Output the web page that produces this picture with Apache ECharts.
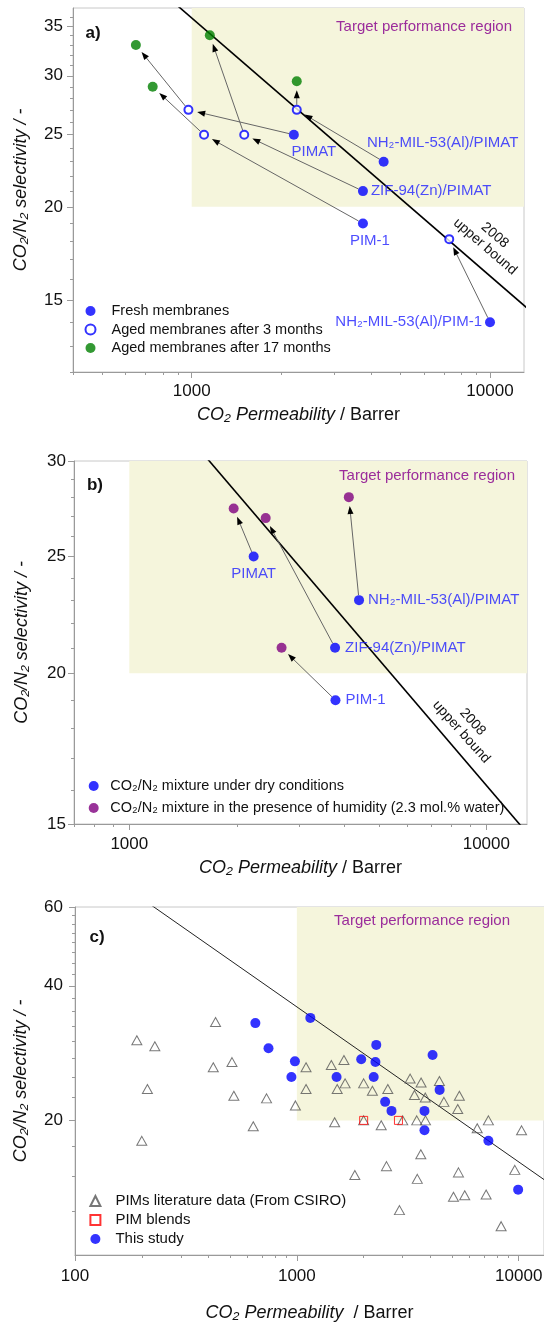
<!DOCTYPE html>
<html>
<head>
<meta charset="utf-8">
<script src="https://cdn.jsdelivr.net/npm/echarts@6/dist/echarts.min.js"></script>
<style>html,body{margin:0;padding:0;background:#fff}#c{width:544px;height:1324px}</style>
</head>
<body>
<div id="c"></div>
<script>
// ---------------- Robeson 2008 upper bound (two points on the line) --------------
const ubPerm = [100, 20000];
const ubSel = [79.7, 12.7];

// ---------------- Panel a ----------------
const freshA_names = ['PIMAT', 'NH₂-MIL-53(Al)/PIMAT', 'ZIF-94(Zn)/PIMAT', 'PIM-1', 'NH₂-MIL-53(Al)/PIM-1'];
const freshA_perm = [2200, 4400, 3750, 3750, 10000];
const freshA_sel = [25, 23, 21, 19, 14];
// aged after 3 months, same order as fresh (arrow fresh i -> aged3 i)
const aged3A_perm = [975, 2250, 1500, 1100, 7300];
const aged3A_sel = [27, 27, 25, 25, 18.1];
// aged after 17 months; arrow from aged3 index aged17A_from[k]
const aged17A_perm = [650, 740, 1150, 2250];
const aged17A_sel = [33, 29, 34, 29.5];
const aged17A_from = [0, 3, 2, 1];

// ---------------- Panel b ----------------
const dryB_names = ['PIMAT', 'NH₂-MIL-53(Al)/PIMAT', 'ZIF-94(Zn)/PIMAT', 'PIM-1'];
const dryB_perm = [2230, 4400, 3770, 3780];
const dryB_sel = [25, 23, 21, 19];
const humidB_perm = [1960, 4120, 2410, 2670];
const humidB_sel = [27.4, 28, 26.9, 21];

// ---------------- Panel c ----------------
const litC_perm = [190, 229, 430, 420, 510, 212, 200, 520, 730, 636, 985, 1100, 1430, 1630, 1100, 1520, 1650, 2000, 2190, 2570, 3240, 3630, 4390, 3390, 3790, 4600, 5400, 5310, 1480, 2000, 2400, 3000, 3470, 3800, 6500, 7300, 10300, 3620, 2535, 1825, 3490, 5350, 9600, 5080, 5710, 7130, 2900, 8330];
const litC_sel = [30.2, 29.3, 33.2, 26.3, 27.0, 23.5, 18.0, 22.7, 22.4, 19.4, 21.6, 26.3, 26.6, 27.3, 23.5, 23.5, 24.2, 24.2, 23.3, 23.5, 24.8, 24.3, 24.5, 22.8, 22.5, 22.0, 22.7, 21.2, 19.8, 20.0, 19.5, 20.0, 20.0, 20.0, 19.2, 20.0, 19.0, 16.8, 15.8, 15.1, 14.8, 15.3, 15.5, 13.5, 13.6, 13.65, 12.6, 11.6];
const blendC_perm = [2000, 2870];
const blendC_sel = [20, 20];
const studyC_perm = [650, 745, 980, 945, 1150, 2280, 1950, 2260, 4090, 1510, 2220, 4400, 2500, 2670, 3760, 3760, 7300, 9940];
const studyC_sel = [33.0, 29.0, 27.1, 25.0, 33.9, 29.5, 27.4, 27.0, 28.0, 25.0, 25.0, 23.4, 22.0, 21.0, 21.0, 19.0, 18.0, 14.0];

// ---------------- Tick values ----------------
const ticksA_xMajor = [1000, 10000];
const ticksA_xMinor = [400, 500, 600, 700, 800, 900, 2000, 3000, 4000, 5000, 6000, 7000, 8000, 9000];
const ticksA_yMajor = [15, 20, 25, 30, 35];
const ticksA_yMinor = [12, 13, 14, 16, 17, 18, 19, 21, 22, 23, 24, 26, 27, 28, 29, 31, 32, 33, 34, 36];
const ticksB_xMajor = [1000, 10000];
const ticksB_xMinor = [700, 800, 900, 2000, 3000, 4000, 5000, 6000, 7000, 8000, 9000];
const ticksB_yMajor = [15, 20, 25, 30];
const ticksB_yMinor = [16, 17, 18, 19, 21, 22, 23, 24, 26, 27, 28, 29];
const ticksC_xMajor = [100, 1000, 10000];
const ticksC_xMinor = [200, 300, 400, 500, 600, 700, 800, 900, 2000, 3000, 4000, 5000, 6000, 7000, 8000, 9000];
const ticksC_yMajor = [20, 40, 60];
const ticksC_yMinor = [12.5, 15, 17.5, 22.5, 25, 27.5, 30, 32.5, 35, 37.5, 42.5, 45, 47.5, 50, 52.5, 55, 57.5];

// ---------------- helpers ----------------
const FONT = '"Liberation Sans", Arial, Helvetica, sans-serif';
const zip = (a, b) => a.map((v, i) => [v, b[i]]);
const AX = '#9a9a9a';
const BLUE = '#0000ff';
const LBL = '#2020ff';
const PURPLE_T = '#9b2d9b';

function mainAxis(dim, gi, min, max, major, o) {
  return {
    type: 'log', logBase: 10, gridIndex: gi, min: min, max: max,
    position: dim === 'x' ? 'bottom' : 'left',
    axisLine: { show: true, lineStyle: { color: AX, width: 1 } },
    axisTick: { show: true, inside: false, length: 6, customValues: major, lineStyle: { color: AX, width: 1 } },
    axisLabel: { show: true, customValues: major, formatter: v => String(Math.round(v)), fontSize: 17, color: '#111', fontFamily: FONT, margin: o.margin },
    splitLine: { show: false }, minorTick: { show: false }, minorSplitLine: { show: false },
    name: o.name, nameLocation: 'middle', nameGap: o.nameGap,
    nameTextStyle: o.nameTextStyle
  };
}
function minorAxis(dim, gi, min, max, minor) {
  return {
    type: 'log', logBase: 10, gridIndex: gi, min: min, max: max,
    position: dim === 'x' ? 'bottom' : 'left',
    axisLine: { show: false },
    axisTick: { show: true, inside: false, length: 3, customValues: minor, lineStyle: { color: AX, width: 1 } },
    axisLabel: { show: false },
    splitLine: { show: false }, minorTick: { show: false }
  };
}
const xName = (txt) => ({
  name: txt,
  nameTextStyle: { fontSize: 18, color: '#111', fontFamily: FONT, rich: { i: { fontSize: 18, fontStyle: 'italic', color: '#111', fontFamily: FONT } } }
});
const yNameStyle = { fontSize: 18, fontStyle: 'italic', color: '#111', fontFamily: FONT };

function arrowRender(params, api) {
  const a = api.coord([api.value(0), api.value(1)]);
  const b = api.coord([api.value(2), api.value(3)]);
  const dx = b[0] - a[0], dy = b[1] - a[1];
  const L = Math.hypot(dx, dy) || 1;
  const ux = dx / L, uy = dy / L;
  const s0 = 5, e0 = 9, hl = 8, hw = 3;
  const sx = a[0] + ux * s0, sy = a[1] + uy * s0;
  const tx = b[0] - ux * e0, ty = b[1] - uy * e0;
  const bx = tx - ux * hl, by = ty - uy * hl;
  return {
    type: 'group', children: [
      { type: 'line', shape: { x1: sx, y1: sy, x2: bx + ux, y2: by + uy }, style: { stroke: '#666', lineWidth: 1 } },
      { type: 'polygon', shape: { points: [[tx, ty], [bx - uy * hw, by + ux * hw], [bx + uy * hw, by - ux * hw]] }, style: { fill: '#000' } }
    ]
  };
}

const arrowsA = [
  ...freshA_perm.map((p, i) => [p, freshA_sel[i], aged3A_perm[i], aged3A_sel[i]]),
  ...aged17A_from.map((j, k) => [aged3A_perm[j], aged3A_sel[j], aged17A_perm[k], aged17A_sel[k]])
];
const arrowsB = dryB_perm.map((p, i) => [p, dryB_sel[i], humidB_perm[i], humidB_sel[i]]);

// label placement (style only)
const labelStyleA = [
  { position: 'bottom', offset: [20, 0] },
  { position: 'top', offset: [59, -1] },
  { position: 'right', distance: 3 },
  { position: 'bottom', offset: [7, 0] },
  { position: 'left', distance: 3 }
];
const labelStyleB = [
  { position: 'bottom', offset: [0, 0] },
  { position: 'right', distance: 4 },
  { position: 'right', distance: 5 },
  { position: 'right', distance: 5 }
];
const ptLabel = { show: true, formatter: '{b}', fontSize: 15, color: LBL, fontFamily: FONT };

function region(gi, xmin, xmax, ymin, ymax, off) {
  return {
    silent: true, z: 1,
    itemStyle: { color: '#f5f5dc', borderWidth: 0 },
    label: { show: true, position: 'insideTopRight', distance: 0, offset: off, fontSize: 15, color: PURPLE_T, fontFamily: FONT },
    data: [[{ name: 'Target performance region', xAxis: xmin, yAxis: ymin }, { xAxis: xmax, yAxis: ymax }]]
  };
}

function legendCfg(left, top, gap, fontSize, textPad, names) {
  return {
    left: left, top: top, orient: 'vertical', padding: 0,
    itemWidth: 10, itemHeight: 10, itemGap: gap, selectedMode: false,
    textStyle: { fontSize: fontSize, color: '#111', fontFamily: FONT, padding: [0, 0, 0, textPad] },
    data: names
  };
}

const option = {
  animation: false,
  backgroundColor: '#fff',
  textStyle: { fontFamily: FONT },
  grid: [
    { left: 73, top: 8, width: 451, height: 364, show: true, borderColor: '#c8c8c8', borderWidth: 1, backgroundColor: 'transparent', outerBoundsMode: 'none' },
    { left: 74, top: 461, width: 453, height: 363, show: true, borderColor: '#c8c8c8', borderWidth: 1, backgroundColor: 'transparent', outerBoundsMode: 'none' },
    { left: 75, top: 907, width: 469, height: 348, show: true, borderColor: '#c8c8c8', borderWidth: 1, backgroundColor: 'transparent', outerBoundsMode: 'none' }
  ],
  xAxis: [
    mainAxis('x', 0, 400, 13000, ticksA_xMajor, Object.assign({ margin: 11, nameGap: 34 }, xName('{i|CO₂ Permeability} / Barrer'))),
    minorAxis('x', 0, 400, 13000, ticksA_xMinor),
    mainAxis('x', 1, 700, 13000, ticksB_xMajor, Object.assign({ margin: 12, nameGap: 35 }, xName('{i|CO₂ Permeability} / Barrer'))),
    minorAxis('x', 1, 700, 13000, ticksB_xMinor),
    mainAxis('x', 2, 100, 13000, ticksC_xMajor, Object.assign({ margin: 13, nameGap: 49 }, xName('{i|CO₂ Permeability}  / Barrer'))),
    minorAxis('x', 2, 100, 13000, ticksC_xMinor)
  ],
  yAxis: [
    mainAxis('y', 0, 12, 37, ticksA_yMajor, { margin: 10, nameGap: 43, name: 'CO₂/N₂ selectivity / -', nameTextStyle: yNameStyle }),
    minorAxis('y', 0, 12, 37, ticksA_yMinor),
    mainAxis('y', 1, 15, 30, ticksB_yMajor, { margin: 8, nameGap: 43, name: 'CO₂/N₂ selectivity / -', nameTextStyle: yNameStyle }),
    minorAxis('y', 1, 15, 30, ticksB_yMinor),
    mainAxis('y', 2, 10, 60, ticksC_yMajor, { margin: 12, nameGap: 45, name: 'CO₂/N₂ selectivity / -', nameTextStyle: yNameStyle }),
    minorAxis('y', 2, 10, 60, ticksC_yMinor)
  ],
  legend: [
    legendCfg(84.5, 303.5, 3.5, 14.5, 11, ['Fresh membranes', 'Aged membranes after 3 months', 'Aged membranes after 17 months']),
    legendCfg(88.7, 778.5, 7, 14.5, 6.6, ['CO₂/N₂ mixture under dry conditions', 'CO₂/N₂ mixture in the presence of humidity (2.3 mol.% water)']),
    legendCfg(89.4, 1193.5, 4, 15, 10, ['PIMs literature data (From CSIRO)', 'PIM blends', 'This study'])
  ],
  graphic: [
    { type: 'text', x: 93, y: 33, style: { text: 'a)', fontSize: 17, fontWeight: 'bold', fontFamily: FONT, fill: '#111', align: 'center', verticalAlign: 'middle' } },
    { type: 'text', x: 95, y: 485, style: { text: 'b)', fontSize: 17, fontWeight: 'bold', fontFamily: FONT, fill: '#111', align: 'center', verticalAlign: 'middle' } },
    { type: 'text', x: 97, y: 937, style: { text: 'c)', fontSize: 17, fontWeight: 'bold', fontFamily: FONT, fill: '#111', align: 'center', verticalAlign: 'middle' } },
    { type: 'text', x: 490, y: 241, rotation: -0.712, z: 10, style: { text: '2008\nupper bound', fontSize: 14, lineHeight: 15, fontFamily: FONT, fill: '#111', align: 'center', verticalAlign: 'middle' } },
    { type: 'text', x: 467, y: 727, rotation: -0.84, z: 10, style: { text: '2008\nupper bound', fontSize: 14, lineHeight: 15, fontFamily: FONT, fill: '#111', align: 'center', verticalAlign: 'middle' } }
  ],
  series: [
    // ---- panel a ----
    {
      type: 'line', name: 'ubA', xAxisIndex: 0, yAxisIndex: 0, data: zip(ubPerm, ubSel), showSymbol: false, symbol: 'none',
      lineStyle: { color: '#000', width: 1.6 }, clip: true, silent: true, z: 2,
      markArea: region(0, 1000, 13000, 20, 37, [-12, 11])
    },
    { type: 'custom', name: 'arrowsA', xAxisIndex: 0, yAxisIndex: 0, renderItem: arrowRender, data: arrowsA, encode: { x: [0, 2], y: [1, 3] }, z: 3, silent: true },
    {
      type: 'scatter', name: 'Fresh membranes', xAxisIndex: 0, yAxisIndex: 0, symbol: 'circle', symbolSize: 10, z: 4,
      itemStyle: { color: BLUE },
      label: ptLabel,
      data: freshA_perm.map((p, i) => ({ name: freshA_names[i], value: [p, freshA_sel[i]], label: labelStyleA[i] }))
    },
    {
      type: 'scatter', name: 'Aged membranes after 3 months', xAxisIndex: 0, yAxisIndex: 0, symbol: 'circle', symbolSize: 8, z: 4,
      itemStyle: { color: '#fff', borderColor: BLUE, borderWidth: 2 },
      data: zip(aged3A_perm, aged3A_sel)
    },
    {
      type: 'scatter', name: 'Aged membranes after 17 months', xAxisIndex: 0, yAxisIndex: 0, symbol: 'circle', symbolSize: 10, z: 4,
      itemStyle: { color: '#008000' },
      data: zip(aged17A_perm, aged17A_sel)
    },
    // ---- panel b ----
    {
      type: 'line', name: 'ubB', xAxisIndex: 2, yAxisIndex: 2, data: zip(ubPerm, ubSel), showSymbol: false, symbol: 'none',
      lineStyle: { color: '#000', width: 1.6 }, clip: true, silent: true, z: 2,
      markArea: region(1, 1000, 13000, 20, 30, [-12, 7])
    },
    { type: 'custom', name: 'arrowsB', xAxisIndex: 2, yAxisIndex: 2, renderItem: arrowRender, data: arrowsB, encode: { x: [0, 2], y: [1, 3] }, z: 3, silent: true },
    {
      type: 'scatter', name: 'CO₂/N₂ mixture under dry conditions', xAxisIndex: 2, yAxisIndex: 2, symbol: 'circle', symbolSize: 10, z: 4,
      itemStyle: { color: BLUE },
      label: ptLabel,
      data: dryB_perm.map((p, i) => ({ name: dryB_names[i], value: [p, dryB_sel[i]], label: labelStyleB[i] }))
    },
    {
      type: 'scatter', name: 'CO₂/N₂ mixture in the presence of humidity (2.3 mol.% water)', xAxisIndex: 2, yAxisIndex: 2, symbol: 'circle', symbolSize: 10, z: 4,
      itemStyle: { color: '#800080' },
      data: zip(humidB_perm, humidB_sel)
    },
    // ---- panel c ----
    {
      type: 'line', name: 'ubC', xAxisIndex: 4, yAxisIndex: 4, data: zip(ubPerm, ubSel), showSymbol: false, symbol: 'none',
      lineStyle: { color: '#222', width: 1 }, clip: true, silent: true, z: 2,
      markArea: region(2, 1000, 13000, 20, 60, [-34, 6])
    },
    {
      type: 'scatter', name: 'PIMs literature data (From CSIRO)', xAxisIndex: 4, yAxisIndex: 4, symbol: 'triangle', symbolSize: [10, 9], symbolKeepAspect: true, z: 3,
      itemStyle: { color: 'rgba(255,255,255,0)', borderColor: '#555', borderWidth: 1 },
      data: zip(litC_perm, litC_sel)
    },
    {
      type: 'scatter', name: 'PIM blends', xAxisIndex: 4, yAxisIndex: 4, symbol: 'rect', symbolSize: 8, symbolKeepAspect: true, z: 4,
      itemStyle: { color: 'rgba(255,255,255,0)', borderColor: '#ff0000', borderWidth: 1 },
      data: zip(blendC_perm, blendC_sel)
    },
    {
      type: 'scatter', name: 'This study', xAxisIndex: 4, yAxisIndex: 4, symbol: 'circle', symbolSize: 10, z: 5,
      itemStyle: { color: BLUE },
      data: zip(studyC_perm, studyC_sel)
    }
  ]
};

const chart = echarts.init(document.getElementById('c'), null, { renderer: 'canvas', width: 544, height: 1324 });
chart.setOption(option);
</script>
</body>
</html>
